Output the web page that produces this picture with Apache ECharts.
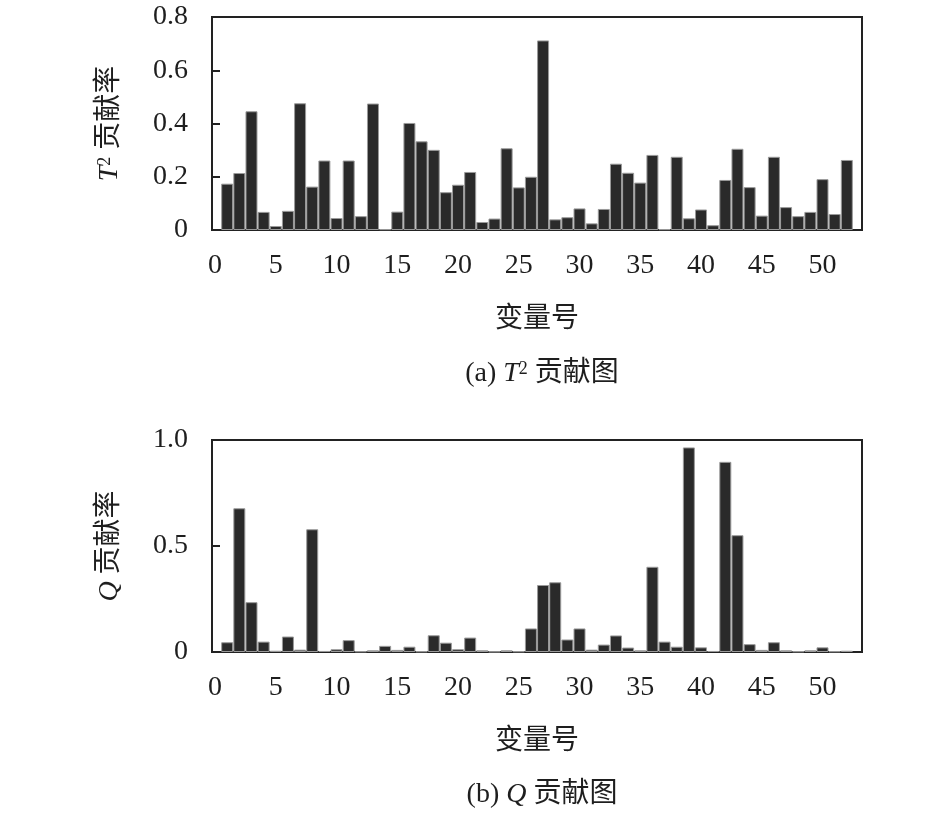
<!DOCTYPE html>
<html>
<head>
<meta charset="utf-8">
<title>T2 / Q 贡献图</title>
<script src="https://cdn.jsdelivr.net/npm/echarts@6/dist/echarts.min.js"></script>
<style>
  html, body { margin: 0; padding: 0; background: #fff; }
  #chart { width: 945px; height: 814px; }
</style>
</head>
<body>
<div id="chart"></div>
<script>
// 变量号
var varIds = [1, 2, 3, 4, 5, 6, 7, 8, 9, 10, 11, 12, 13, 14, 15, 16, 17, 18, 19, 20,
  21, 22, 23, 24, 25, 26, 27, 28, 29, 30, 31, 32, 33, 34, 35, 36, 37, 38, 39, 40,
  41, 42, 43, 44, 45, 46, 47, 48, 49, 50, 51, 52];
// T2 贡献率
var t2Values = [0.174, 0.214, 0.446, 0.068, 0.015, 0.072, 0.476, 0.163, 0.261, 0.045,
  0.261, 0.052, 0.475, 0.003, 0.069, 0.402, 0.333, 0.301, 0.142, 0.170,
  0.218, 0.030, 0.043, 0.307, 0.160, 0.200, 0.712, 0.040, 0.048, 0.081,
  0.025, 0.079, 0.249, 0.215, 0.178, 0.282, 0.003, 0.275, 0.044, 0.077,
  0.018, 0.188, 0.305, 0.161, 0.054, 0.275, 0.086, 0.052, 0.068, 0.191,
  0.060, 0.263];
// Q 贡献率
var qValues = [0.046, 0.678, 0.235, 0.049, 0.006, 0.073, 0.011, 0.579, 0.005, 0.013,
  0.056, 0.003, 0.008, 0.029, 0.010, 0.025, 0.003, 0.079, 0.044, 0.013,
  0.068, 0.008, 0.002, 0.008, 0.003, 0.111, 0.316, 0.329, 0.059, 0.111,
  0.011, 0.035, 0.078, 0.021, 0.008, 0.402, 0.049, 0.025, 0.965, 0.022,
  0.005, 0.897, 0.551, 0.037, 0.010, 0.046, 0.008, 0.003, 0.008, 0.022,
  0.003, 0.006];
// 刻度
var xTicks = [0, 5, 10, 15, 20, 25, 30, 35, 40, 45, 50];
var t2Ticks = [0, 0.2, 0.4, 0.6, 0.8];
var qTicks = [0, 0.5, 1.0];

(function () {
  var myChart = echarts.init(document.getElementById('chart'));
  var serif = '"Liberation Serif", "Times New Roman", "Noto Sans CJK SC", serif';
  var ink = '#1e1e1e';

  function pairs(vals) {
    return varIds.map(function (id, i) { return [id, vals[i]]; });
  }
  function yFmt(v) {
    return v === 0 ? '0' : v.toFixed(1);
  }
  var rich = {
    it: { fontStyle: 'italic', fontFamily: serif, fontSize: 28, color: ink },
    sup: { fontFamily: serif, fontSize: 18, color: ink, padding: [0, 0, 10, 0] },
    zh: { fontFamily: serif, fontSize: 28, color: ink }
  };

  function xAxisOf(idx) {
    return {
      type: 'value',
      gridIndex: idx,
      min: -0.25,
      max: 53.25,
      name: '变量号',
      nameLocation: 'middle',
      nameGap: 76,
      nameTextStyle: { fontFamily: serif, fontSize: 28, color: ink },
      axisLine: { show: true, onZero: false, lineStyle: { color: '#222', width: 2 } },
      axisTick: { show: false },
      splitLine: { show: false },
      axisLabel: {
        customValues: xTicks,
        margin: 22,
        fontFamily: serif,
        fontSize: 28,
        color: ink
      }
    };
  }
  function yAxisOf(idx, ticks, name) {
    return {
      type: 'value',
      gridIndex: idx,
      min: ticks[0],
      max: ticks[ticks.length - 1],
      interval: ticks[1] - ticks[0],
      name: name,
      nameLocation: 'middle',
      nameRotate: 90,
      nameGap: 88,
      nameTextStyle: { rich: rich, fontFamily: serif, fontSize: 28, color: ink },
      axisLine: { show: true, onZero: false, lineStyle: { color: '#222', width: 2 } },
      axisTick: { show: true, inside: true, length: 8, lineStyle: { color: '#222', width: 2 } },
      splitLine: { show: false },
      axisLabel: {
        formatter: yFmt,
        margin: 24,
        fontFamily: serif,
        fontSize: 28,
        color: ink
      }
    };
  }
  function barOf(idx, vals) {
    return {
      type: 'bar',
      xAxisIndex: idx,
      yAxisIndex: idx,
      data: pairs(vals),
      barWidth: 12,
      itemStyle: {
        color: '#2a2a2a',
        borderColor: '#9a9a9a',
        borderWidth: 1
      },
      silent: true
    };
  }

  var option = {
    animation: false,
    backgroundColor: '#fff',
    grid: [
      { left: 212, top: 17, width: 650, height: 213, show: true, borderColor: '#222', borderWidth: 2, backgroundColor: '#fff' },
      { left: 212, top: 440, width: 650, height: 212, show: true, borderColor: '#222', borderWidth: 2, backgroundColor: '#fff' }
    ],
    title: [
      {
        text: '(a) {it|T}{sup|2} 贡献图',
        left: 537, top: 355, textAlign: 'center',
        textStyle: { rich: rich, fontFamily: serif, fontSize: 28, fontWeight: 'normal', color: ink }
      },
      {
        text: '(b) {it|Q} 贡献图',
        left: 537, top: 776, textAlign: 'center',
        textStyle: { rich: rich, fontFamily: serif, fontSize: 28, fontWeight: 'normal', color: ink }
      }
    ],
    xAxis: [xAxisOf(0), xAxisOf(1)],
    yAxis: [
      yAxisOf(0, t2Ticks, '{it|T}{sup|2} 贡献率'),
      yAxisOf(1, qTicks, '{it|Q} 贡献率')
    ],
    series: [barOf(0, t2Values), barOf(1, qValues)]
  };
  myChart.setOption(option);
  window.addEventListener('resize', function () {
    myChart.resize();
  });
})();
</script>
</body>
</html>
